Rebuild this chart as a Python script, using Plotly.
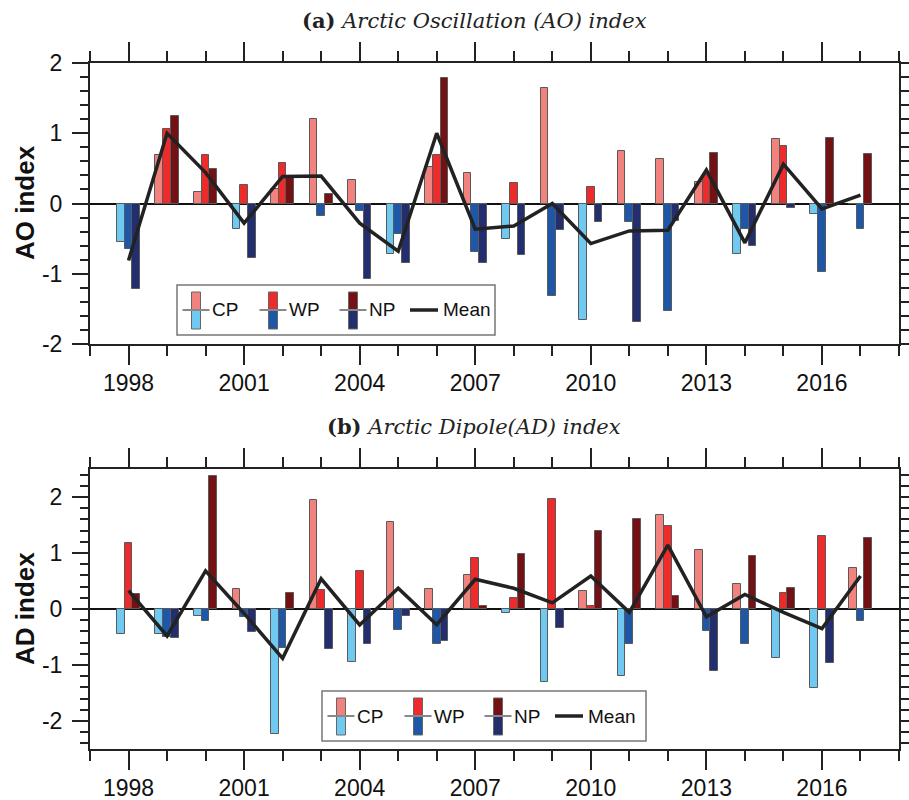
import plotly.graph_objects as go

years = list(range(1998, 2018))

# (a) AO index
ao_cp = [-0.55, 0.69, 0.16, -0.36, 0.21, 1.20, 0.33, -0.72, 0.52, 0.44,
         -0.51, 1.65, -1.66, 0.745, 0.635, 0.30, -0.72, 0.92, -0.15, 0.0]
ao_wp = [-0.65, 1.06, 0.69, 0.26, 0.57, -0.18, -0.10, -0.44, 0.69, -0.69,
         0.29, -1.32, 0.24, -0.26, -1.53, 0.40, -0.36, 0.82, -0.98, -0.37]
ao_np = [-1.22, 1.25, 0.49, -0.77, 0.39, 0.13, -1.07, -0.85, 1.78, -0.84,
         -0.73, -0.375, -0.27, -1.68, -0.245, 0.72, -0.60, -0.06, 0.93, 0.70]
ao_mean = [-0.81, 1.0, 0.44, -0.28, 0.385, 0.39, -0.28, -0.68, 1.0, -0.365,
           -0.32, 0.0, -0.57, -0.39, -0.38, 0.476, -0.56, 0.56, -0.077, 0.12]

# (b) AD index
ad_cp = [-0.45, -0.45, -0.13, 0.35, -2.24, 1.95, -0.95, 1.55, 0.35, 0.60,
         -0.07, -1.31, 0.33, -1.20, 1.68, 1.06, 0.45, -0.88, -1.41, 0.73]
ad_wp = [1.18, -0.50, -0.21, -0.14, -0.69, 0.34, 0.68, -0.37, -0.63, 0.91,
         0.20, 1.96, 0.05, -0.62, 1.48, -0.39, -0.62, 0.29, 1.31, -0.21]
ad_np = [0.27, -0.51, 2.37, -0.41, 0.29, -0.71, -0.62, -0.12, -0.58, 0.06,
         0.985, -0.34, 1.39, 1.61, 0.23, -1.10, 0.95, 0.37, -0.96, 1.27]
ad_mean = [0.33, -0.48, 0.68, -0.08, -0.88, 0.54, -0.285, 0.37, -0.28, 0.53,
           0.37, 0.11, 0.59, -0.06, 1.14, -0.14, 0.26, -0.06, -0.35, 0.59]

x_tickvals = [1998, 2001, 2004, 2007, 2010, 2013, 2016]
x_ticktext = ["1998", "2001", "2004", "2007", "2010", "2013", "2016"]
y_tickvals = [-2, -1, 0, 1, 2]
y_ticktext = ["-2", "-1", "0", "1", "2"]

series_names = ["CP", "WP", "NP"]
pos_colors = {"CP": "#F2827E", "WP": "#EE2B2B", "NP": "#741115"}
neg_colors = {"CP": "#6FC9F1", "WP": "#1E57A7", "NP": "#232E6F"}
offsets = {"CP": -0.3, "WP": -0.1, "NP": 0.1}

W, H = 909, 800
FONT = "Liberation Sans, Arial, Helvetica, sans-serif"
SERIF = "DejaVu Serif, Liberation Serif, serif"


def px(x):
    return x / W


def py(y):
    return 1 - y / H


fig = go.Figure()

panels = [
    dict(xa="x", ya="y", data={"CP": ao_cp, "WP": ao_wp, "NP": ao_np}, mean=ao_mean),
    dict(xa="x2", ya="y2", data={"CP": ad_cp, "WP": ad_wp, "NP": ad_np}, mean=ad_mean),
]

for p in panels:
    for name in series_names:
        vals = p["data"][name]
        cols = [pos_colors[name] if v >= 0 else neg_colors[name] for v in vals]
        fig.add_trace(go.Bar(
            x=years, y=vals, width=0.2, offset=offsets[name],
            marker=dict(color=cols, line=dict(color="#5a5a5a", width=1)),
            xaxis=p["xa"], yaxis=p["ya"], showlegend=False, name=name,
        ))
    fig.add_trace(go.Scatter(
        x=years, y=p["mean"], mode="lines",
        line=dict(color="#222222", width=3.5),
        xaxis=p["xa"], yaxis=p["ya"], showlegend=False, name="Mean",
    ))

xcommon = dict(
    range=[1997, 2018], tickmode="array", tickvals=x_tickvals, ticktext=x_ticktext,
    ticks="outside", ticklen=19, tickwidth=2, tickcolor="#222",
    minor=dict(tickmode="linear", tick0=1998, dtick=1, ticklen=10, tickwidth=2,
               ticks="outside", tickcolor="#222"),
    showline=True, linecolor="#222", linewidth=2, mirror="ticks",
    showgrid=False, zeroline=False, ticklabelstandoff=-2,
    tickfont=dict(family=FONT, size=23, color="#111"),
)
ycommon = dict(
    tickmode="array", tickvals=y_tickvals, ticktext=y_ticktext,
    ticks="outside", ticklen=16, tickwidth=2, tickcolor="#222",
    minor=dict(tickmode="linear", tick0=0, dtick=0.2, ticklen=8, tickwidth=2,
               ticks="outside", tickcolor="#222"),
    showline=True, linecolor="#222", linewidth=2, mirror="ticks",
    showgrid=False, zeroline=True, zerolinecolor="#111", zerolinewidth=2,
    ticklabelstandoff=5,
    tickfont=dict(family=FONT, size=23, color="#111"),
)

fig.update_layout(
    width=W, height=H,
    margin=dict(l=0, r=0, t=0, b=0, autoexpand=False),
    paper_bgcolor="white", plot_bgcolor="white",
    barmode="overlay", bargap=0,
    xaxis=dict(domain=[px(90), px(899)], anchor="y", **xcommon),
    yaxis=dict(domain=[py(344), py(63)], anchor="x", range=[-2, 2], **ycommon),
    xaxis2=dict(domain=[px(90), px(899)], anchor="y2", **xcommon),
    yaxis2=dict(domain=[py(749), py(469)], anchor="x2", range=[-2.5, 2.5], **ycommon),
    showlegend=False,
)

annotations = [
    dict(text="<b>(a)</b> <i>Arctic Oscillation (AO) index</i>", x=px(474), y=py(21),
         xref="paper", yref="paper", showarrow=False, xanchor="center", yanchor="middle",
         font=dict(family=SERIF, size=21, color="#222")),
    dict(text="<b>(b)</b> <i>Arctic Dipole(AD) index</i>", x=px(474), y=py(426),
         xref="paper", yref="paper", showarrow=False, xanchor="center", yanchor="middle",
         font=dict(family=SERIF, size=21, color="#222")),
    dict(text="<b>AO index</b>", x=px(25), y=py(203), xref="paper", yref="paper",
         showarrow=False, textangle=-90, xanchor="center", yanchor="middle",
         font=dict(family=FONT, size=26, color="#111")),
    dict(text="<b>AD index</b>", x=px(25), y=py(609), xref="paper", yref="paper",
         showarrow=False, textangle=-90, xanchor="center", yanchor="middle",
         font=dict(family=FONT, size=26, color="#111")),
]

shapes = []


def add_legend(left, top, width, height=50):
    cy = top + height / 2
    shapes.append(dict(type="rect", xref="paper", yref="paper",
                       x0=px(left), x1=px(left + width), y0=py(top + height), y1=py(top),
                       line=dict(color="#777", width=1.5), fillcolor="white", layer="above"))
    item_pos = {"CP": 19, "WP": 96, "NP": 176}
    for name in series_names:
        c = left + item_pos[name]
        shapes.append(dict(type="rect", xref="paper", yref="paper",
                           x0=px(c - 4.5), x1=px(c + 4.5), y0=py(cy), y1=py(cy - 18),
                           line=dict(color="#666", width=1), fillcolor=pos_colors[name], layer="above"))
        shapes.append(dict(type="rect", xref="paper", yref="paper",
                           x0=px(c - 4.5), x1=px(c + 4.5), y0=py(cy + 19), y1=py(cy),
                           line=dict(color="#666", width=1), fillcolor=neg_colors[name], layer="above"))
        shapes.append(dict(type="line", xref="paper", yref="paper",
                           x0=px(c - 13.5), x1=px(c + 13.5), y0=py(cy), y1=py(cy),
                           line=dict(color="#888", width=2), layer="above"))
        annotations.append(dict(text=name, x=px(c + 14), y=py(cy), xref="paper", yref="paper",
                                showarrow=False, xanchor="left", yanchor="middle",
                                font=dict(family=FONT, size=19, color="#111")))
    shapes.append(dict(type="line", xref="paper", yref="paper",
                       x0=px(left + 233), x1=px(left + 261), y0=py(cy), y1=py(cy),
                       line=dict(color="#222", width=3.5), layer="above"))
    annotations.append(dict(text="Mean", x=px(left + 264), y=py(cy), xref="paper", yref="paper",
                            showarrow=False, xanchor="left", yanchor="middle",
                            font=dict(family=FONT, size=19, color="#111")))


add_legend(177, 285, 318)
add_legend(322, 691, 324)

fig.update_layout(annotations=annotations, shapes=shapes)

fig.write_html(
    "out.html",
    config={"displayModeBar": False},
    post_script="document.body.style.margin='0';document.body.style.overflow='hidden';",
)
